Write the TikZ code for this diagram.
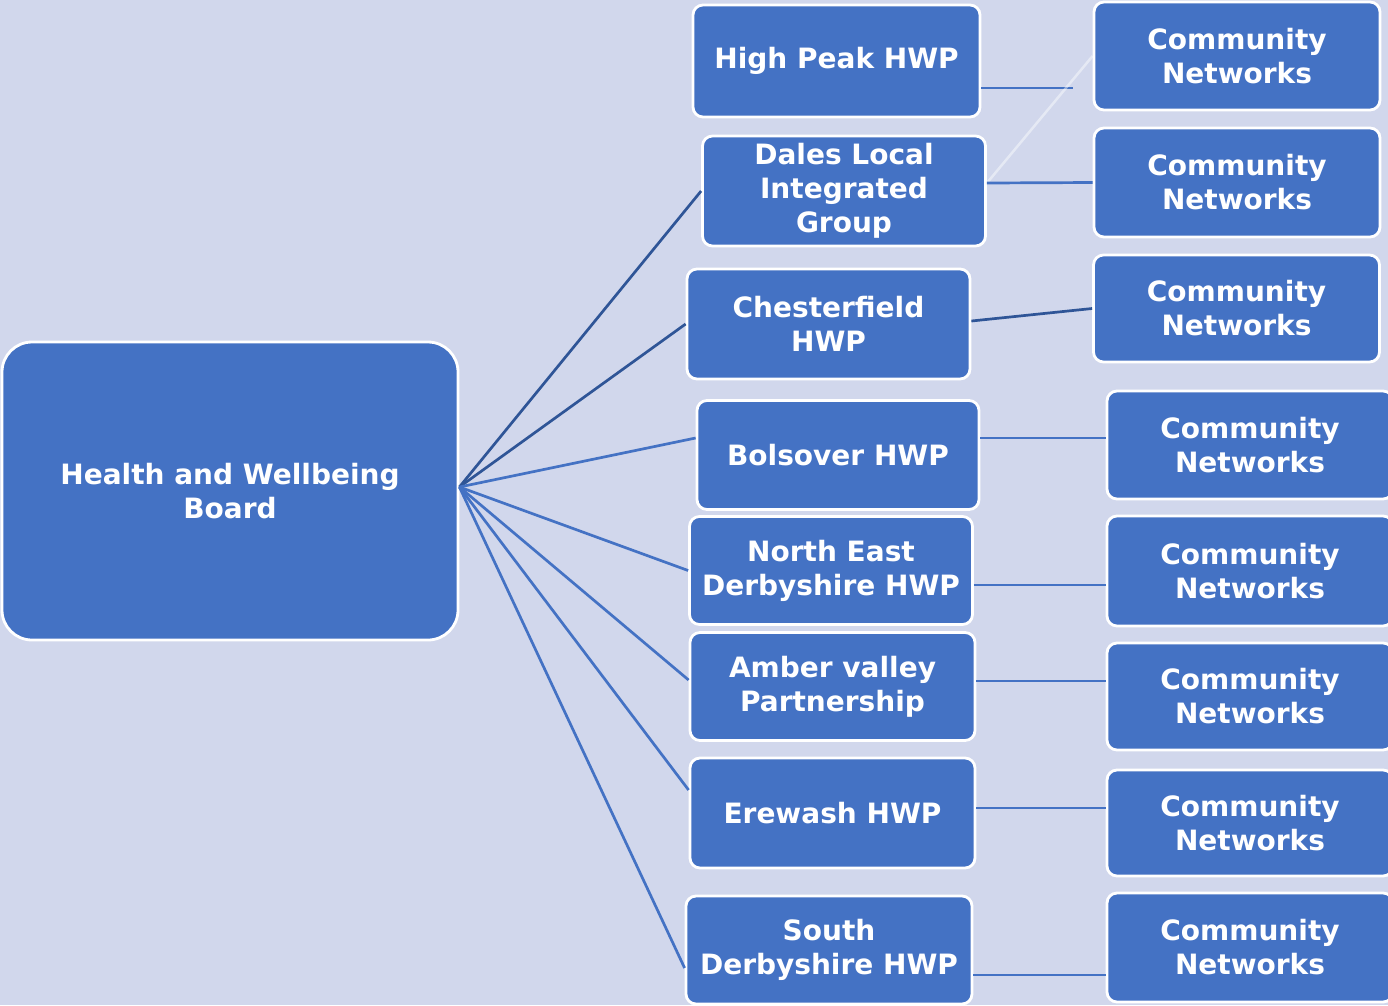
\documentclass[tikz,border=0pt]{standalone}
\usepackage{fontspec}
\usepackage{tikz}
\usetikzlibrary{calc}
\newfontfamily\hwbfont{DejaVu Sans}
\definecolor{bgcol}{HTML}{D1D7EC}
\definecolor{boxblue}{HTML}{4472C4}
\definecolor{darkline}{HTML}{2F5597}
\tikzstyle{partner} = [draw=white, line width=2.8pt, fill=boxblue, rounded corners=10pt, text=white, align=center, inner sep=0pt, minimum width=283pt, minimum height=108pt, font=\hwbfont\bfseries\fontsize{28}{34}\selectfont]
\tikzstyle{network} = [partner, minimum width=286pt]
\tikzstyle{link} = [line width=2.7pt, boxblue]

\begin{document}
\begin{tikzpicture}[x=1pt,y=-1pt]
			\fill[bgcol] (0,0) rectangle (1388,1005);
			\useasboundingbox (0,0) rectangle (1388,1005);
			\node[partner, minimum width=456pt, minimum height=298pt, rounded corners=30pt] (hwb) at (230,491) {Health and Wellbeing\\Board\vphantom{\rule{0pt}{8pt}}};
			\node[partner, minimum width=287pt, minimum height=112pt] (highpeak) at (836.5,61) {High Peak HWP};
			\node[partner, minimum height=110pt] (dales) at (844,191) {Dales Local\\Integrated\\Group};
			\node[partner, minimum height=110pt] (chesterfield) at (828.5,324) {Chesterfield\\HWP};
			\node[partner, minimum width=282pt, minimum height=109pt] (bolsover) at (838,455) {Bolsover HWP};
			\node[partner] (northeast) at (831,570.5) {North East\\Derbyshire HWP};
			\node[partner, minimum width=285pt] (amber) at (832.5,686.5) {Amber valley\\Partnership};
			\node[partner, minimum width=285pt, minimum height=110pt] (erewash) at (832.5,813) {Erewash HWP};
			\node[partner, minimum width=286pt] (south) at (829,950) {South\\Derbyshire HWP};
			\node[network, minimum height=108pt] (cn1) at (1237,56) {Community\\Networks};
			\node[network, minimum height=109pt] (cn2) at (1237,182.5) {Community\\Networks};
			\node[network, minimum height=107pt] (cn3) at (1236.5,308.5) {Community\\Networks};
			\node[network] (cn4) at (1250,445) {Community\\Networks};
			\node[network, minimum height=110pt] (cn5) at (1250,571) {Community\\Networks};
			\node[network, minimum height=107pt] (cn6) at (1250,696.5) {Community\\Networks};
			\node[network, minimum height=106pt] (cn7) at (1250,823) {Community\\Networks};
			\node[network, minimum height=109pt] (cn8) at (1250,947.5) {Community\\Networks};
			\coordinate (hpend) at (1073,88);
			
			\draw[link,darkline] ([yshift=4pt]hwb.east) -- (dales.west);
			\draw[link,darkline] ([yshift=4pt]hwb.east) -- (chesterfield.west);
			\draw[link] ([yshift=4pt]hwb.east) -- ([yshift=17pt]bolsover.west);
			\draw[link] ([yshift=4pt]hwb.east) -- (northeast.west);
			\draw[link] ([yshift=4pt]hwb.east) -- ([yshift=6.5pt]amber.west);
			\draw[link] ([yshift=4pt]hwb.east) -- ([yshift=23pt]erewash.west);
			\draw[link] ([yshift=4pt]hwb.east) -- ([yshift=-18pt]south.west);
			
			\draw[link] ([yshift=-27pt]highpeak.east) -- (hpend);
			\draw[line width=2.5pt,white,opacity=.45] ([yshift=8pt]dales.east) -- (cn1.west);
			\draw[link] ([yshift=8pt]dales.east) -- (cn2.west);
			\draw[link,darkline] ([yshift=3pt]chesterfield.east) -- (cn3.west);
			\draw[link] ([yshift=17pt]bolsover.east) -- ([yshift=7pt]cn4.west);
			\draw[link] ([yshift=-14.5pt]northeast.east) -- ([yshift=-14pt]cn5.west);
			\draw[link] ([yshift=5.5pt]amber.east) -- ([yshift=15.5pt]cn6.west);
			\draw[link] ([yshift=5pt]erewash.east) -- ([yshift=15pt]cn7.west);
			\draw[link] ([yshift=-25pt]south.east) -- ([yshift=-27.5pt]cn8.west);
		\end{tikzpicture}
\end{document}
